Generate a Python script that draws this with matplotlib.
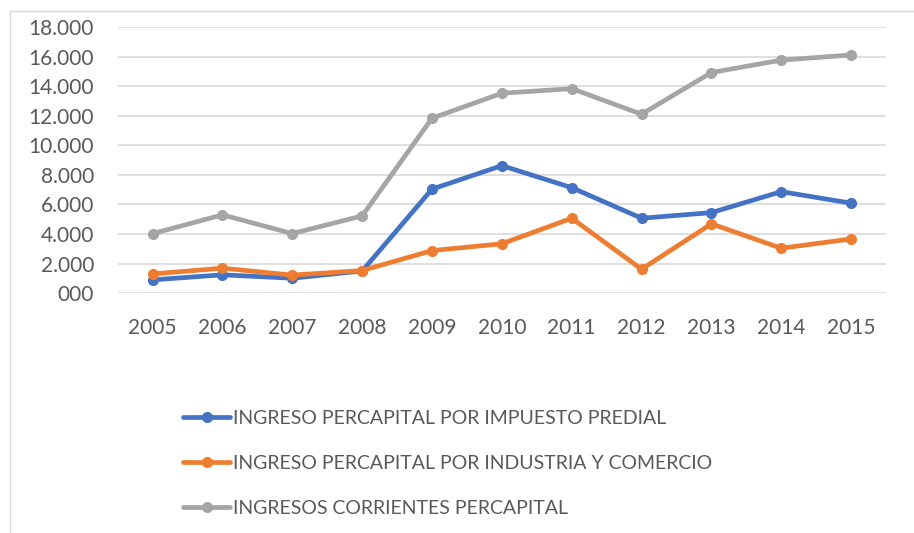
import matplotlib.pyplot as plt
from matplotlib.ticker import FuncFormatter, MultipleLocator
from matplotlib.patches import Rectangle

years = [2005, 2006, 2007, 2008, 2009, 2010, 2011, 2012, 2013, 2014, 2015]
predial = [900, 1240, 1010, 1500, 7040, 8630, 7140, 5070, 5450, 6870, 6090]
industria = [1300, 1690, 1220, 1530, 2880, 3340, 5070, 1620, 4690, 3040, 3670]
corrientes = [4030, 5300, 4030, 5230, 11840, 13530, 13840, 12110, 14930, 15770, 16120]

labels = ['INGRESO PERCAPITAL POR IMPUESTO PREDIAL',
          'INGRESO PERCAPITAL POR INDUSTRIA Y COMERCIO',
          'INGRESOS CORRIENTES PERCAPITAL']
colors = ['#4472c4', '#ed7d31', '#a5a5a5']

plt.rcParams['font.family'] = ['Lato', 'DejaVu Sans']

fig = plt.figure(figsize=(9.14, 5.33), dpi=100)
ax = fig.add_axes([0.1288, 0.450, 0.8406, 0.499])

# marco exterior del gráfico
fig.patches.append(Rectangle((10 / 914, -0.01), 0.99, 1 - 11 / 533 + 0.01,
                             transform=fig.transFigure, fill=False,
                             edgecolor='#d9d9d9', linewidth=1))

x = list(range(len(years)))
for serie, lab, col in zip([predial, industria, corrientes], labels, colors):
    ax.plot(x, serie, color=col, linewidth=3.4, marker='o', markersize=7,
            label=lab, solid_capstyle='round')

ax.set_xlim(-0.5, len(years) - 0.5)
ax.set_ylim(0, 18000)
ax.yaxis.set_major_locator(MultipleLocator(2000))
ax.yaxis.set_major_formatter(FuncFormatter(
    lambda v, p: '000' if v == 0 else f'{v / 1000:.0f}.000'))
ax.set_xticks(x)
ax.set_xticklabels([str(y) for y in years])

ax.grid(axis='y', color='#d9d9d9', linewidth=1.2)
ax.set_axisbelow(True)
for s in ax.spines.values():
    s.set_visible(False)
ax.tick_params(axis='both', length=0, labelsize=15, colors='#595959')
ax.tick_params(axis='x', pad=18)
ax.tick_params(axis='y', pad=17)

fig.legend(loc='upper left', bbox_to_anchor=(0.2005, 0.231), frameon=False,
           fontsize=14, labelcolor='#595959', handlelength=2.4,
           handletextpad=0.15, labelspacing=1.45, borderpad=0,
           borderaxespad=0)

fig.savefig('out.png', dpi=100)
